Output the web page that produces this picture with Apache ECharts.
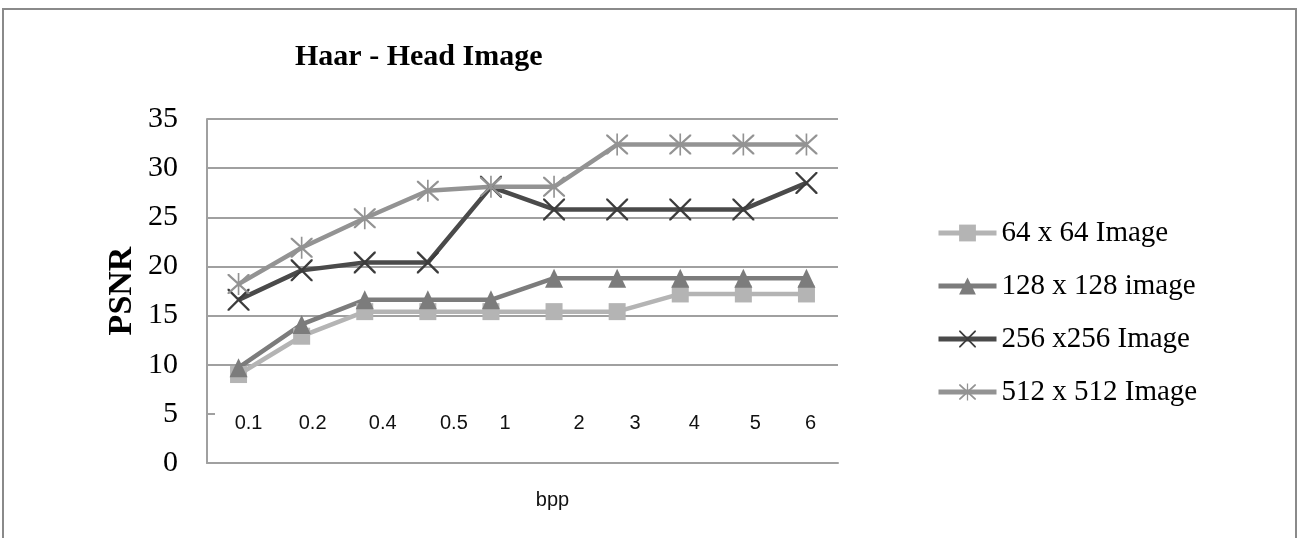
<!DOCTYPE html>
<html>
<head>
<meta charset="utf-8">
<script src="https://cdn.jsdelivr.net/npm/echarts@6/dist/echarts.min.js"></script>
<style>
html,body{margin:0;padding:0;background:#fff;}
#chart{width:1298px;height:538px;}
</style>
</head>
<body>
<div id="chart"></div>
<script>
const categories = ['0.1','0.2','0.4','0.5','1','2','3','4','5','6'];
const s64  = [9.0, 12.9, 15.4, 15.4, 15.4, 15.4, 15.4, 17.2, 17.2, 17.2];
const s128 = [9.7, 14.1, 16.6, 16.6, 16.6, 18.8, 18.8, 18.8, 18.8, 18.8];
const s256 = [16.6, 19.6, 20.4, 20.4, 28.1, 25.8, 25.8, 25.8, 25.8, 28.5];
const s512 = [18.2, 21.9, 24.9, 27.7, 28.1, 28.1, 32.4, 32.4, 32.4, 32.4];
const seriesNames = ['64 x 64 Image','128 x 128 image','256 x256 Image','512 x 512 Image'];

// layout only: horizontal shift of each x label relative to its category centre (px)
const xLabelShift = [10, 11, 18, 26, 14, 25, 18, 14, 12, 4];

const SERIF = '"Liberation Serif","Times New Roman",serif';
const SANS = '"Liberation Sans","DejaVu Sans",sans-serif';

const X_PATH = 'path://M0,0 L1.5,0 L20,18.5 L20,20 L18.5,20 L0,1.5 Z M20,0 L20,1.5 L1.5,20 L0,20 L0,18.5 L18.5,0 Z';
const STAR_PATH = 'path://M0,0 L1.5,0 L20,18.5 L20,20 L18.5,20 L0,1.5 Z M20,0 L20,1.5 L1.5,20 L0,20 L0,18.5 L18.5,0 Z M9.25,-1 L10.75,-1 L10.75,21 L9.25,21 Z';

const rich = {};
xLabelShift.forEach((s, i) => {
  rich['l' + i] = {
    fontFamily: SANS, fontSize: 20, color: '#111',
    padding: s >= 0 ? [0, 0, 0, 2 * s] : [0, -2 * s, 0, 0]
  };
});

const chart = echarts.init(document.getElementById('chart'), null, {renderer: 'canvas'});

function mk(name, data, color, symbol, size, symColor) {
  return {
    name: name, type: 'line', data: data,
    symbol: symbol, symbolSize: size,
    lineStyle: {color: color, width: 4.5},
    itemStyle: {color: symColor || color},
    animation: false, z: 2
  };
}

chart.setOption({
  animation: false,
  backgroundColor: '#fff',
  title: {
    text: 'Haar - Head Image',
    left: 295, top: 42, padding: 0,
    textStyle: {fontFamily: SERIF, fontSize: 30, fontWeight: 'bold', color: '#000'}
  },
  graphic: [{
    type: 'rect', silent: true,
    shape: {x: 3, y: 9, width: 1293, height: 600},
    style: {fill: 'none', stroke: '#8a8a8a', lineWidth: 2}
  }],
  legend: {
    orient: 'vertical', left: 931, top: 213,
    itemWidth: 58, itemHeight: 21, itemGap: 23,
    data: seriesNames,
    lineStyle: {width: 5},
    textStyle: {fontFamily: SERIF, fontSize: 29, color: '#000', lineHeight: 30}
  },
  grid: {left: 207, right: 460, top: 119, bottom: 75, containLabel: false},
  xAxis: {
    type: 'category', data: categories, boundaryGap: true,
    name: 'bpp', nameLocation: 'middle', nameGap: 27,
    nameTextStyle: {fontFamily: SANS, fontSize: 20, color: '#111', padding: [0, 0, 0, 60]},
    axisLine: {show: true, lineStyle: {color: '#a0a0a0', width: 2}},
    axisTick: {show: false},
    axisLabel: {
      margin: -50, interval: 0,
      formatter: (v, i) => '{l' + i + '|' + v + '}',
      rich: rich
    },
    splitLine: {show: false}
  },
  yAxis: {
    type: 'value', min: 0, max: 35, interval: 5,
    name: 'PSNR', nameLocation: 'middle', nameRotate: 90, nameGap: 68,
    nameTextStyle: {fontFamily: SERIF, fontSize: 34, fontWeight: 'bold', color: '#000'},
    axisLine: {show: true, lineStyle: {color: '#a0a0a0', width: 2}},
    axisTick: {show: true, inside: true, length: 8, lineStyle: {color: '#a0a0a0', width: 2}},
    axisLabel: {fontFamily: SERIF, fontSize: 30, color: '#000', margin: 29, padding: [4, 0, 0, 0]},
    splitLine: {
      show: true,
      lineStyle: {width: 2, color: ['#a0a0a0', 'rgba(0,0,0,0)', '#a0a0a0', '#a0a0a0', '#a0a0a0', '#a0a0a0', '#a0a0a0', '#a0a0a0']}
    }
  },
  series: [
    mk(seriesNames[0], s64, '#b4b4b4', 'rect', 17),
    mk(seriesNames[1], s128, '#7c7c7c', 'triangle', [18, 19]),
    mk(seriesNames[2], s256, '#4a4a4a', X_PATH, 22, '#3c3c3c'),
    mk(seriesNames[3], s512, '#939393', STAR_PATH, 22)
  ]
});
</script>
</body>
</html>
